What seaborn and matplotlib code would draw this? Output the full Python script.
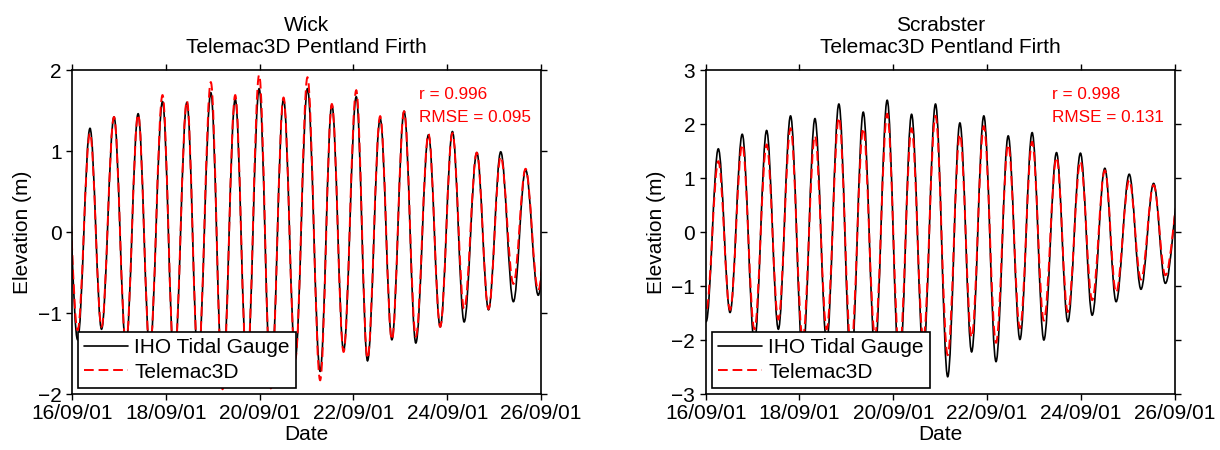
import numpy as np
import pandas as pd
import matplotlib
matplotlib.use("Agg")
import matplotlib.pyplot as plt
import matplotlib.dates as mdates
from matplotlib.path import Path
from matplotlib.patches import PathPatch
from matplotlib.lines import Line2D
import seaborn as sns

START = "2001-09-16"
END = "2001-09-26"

# times of high / low water, days after 16/09/01 00:00
wick_t = [-0.14, 0.12, 0.384, 0.63, 0.896, 1.15, 1.41, 1.66, 1.93, 2.18,
          2.45, 2.69, 2.96, 3.21, 3.48, 3.73, 3.99, 4.24, 4.51, 4.76,
          5.02, 5.29, 5.54, 5.79, 6.06, 6.30, 6.57, 6.82, 7.08, 7.33,
          7.60, 7.85, 8.11, 8.36, 8.63, 8.88, 9.14, 9.41, 9.67, 9.94, 10.2]
wick_gauge = [1.20, -1.33, 1.28, -1.20, 1.42, -1.40, 1.46, -1.45, 1.61, -1.62,
              1.60, -1.60, 1.72, -1.86, 1.64, -1.70, 1.77, -1.88, 1.64, -1.55,
              1.77, -1.72, 1.57, -1.46, 1.67, -1.59, 1.40, -1.33, 1.49, -1.37,
              1.20, -1.17, 1.24, -1.11, 0.98, -0.96, 0.99, -0.86, 0.77, -0.78, 0.70]
wick_model = [1.15, -1.21, 1.22, -1.17, 1.42, -1.38, 1.45, -1.45, 1.69, -1.62,
              1.62, -1.60, 1.85, -1.94, 1.69, -1.72, 1.94, -1.93, 1.66, -1.57,
              1.91, -1.83, 1.58, -1.48, 1.75, -1.56, 1.43, -1.33, 1.49, -1.29,
              1.21, -1.17, 1.22, -0.95, 0.98, -0.95, 0.93, -0.64, 0.78, -0.72, 0.70]

scrab_t = [-0.25, 0.01, 0.27, 0.52, 0.78, 1.04, 1.30, 1.55, 1.81, 2.07,
           2.33, 2.58, 2.84, 3.10, 3.36, 3.61, 3.87, 4.13, 4.39, 4.64,
           4.90, 5.16, 5.42, 5.67, 5.93, 6.19, 6.45, 6.70, 6.96, 7.21,
           7.48, 7.72, 7.99, 8.24, 8.51, 8.75, 9.03, 9.28, 9.55, 9.80, 10.12]
scrab_gauge = [1.40, -1.66, 1.54, -1.49, 1.81, -2.05, 1.88, -1.80, 2.15, -2.30,
               2.10, -2.05, 2.37, -2.50, 2.22, -2.20, 2.44, -2.60, 2.18, -2.25,
               2.37, -2.68, 2.02, -2.22, 2.15, -2.40, 1.78, -1.99, 1.84, -2.00,
               1.47, -1.66, 1.46, -1.54, 1.18, -1.29, 1.07, -1.06, 0.90, -0.95, 0.85]
scrab_model = [1.20, -1.45, 1.31, -1.44, 1.62, -1.80, 1.62, -1.62, 1.92, -1.98,
               1.78, -1.80, 2.12, -2.15, 1.92, -1.92, 2.19, -2.25, 1.92, -1.98,
               2.15, -2.28, 1.81, -1.95, 1.96, -2.05, 1.62, -1.78, 1.67, -1.64,
               1.38, -1.48, 1.31, -1.26, 1.14, -1.12, 0.96, -0.88, 0.87, -0.80, 0.78]

stations = ["Wick", "Scrabster"]
stats = [("r = 0.996", "RMSE = 0.095"), ("r = 0.998", "RMSE = 0.131")]
ylims = [(-2, 2), (-3, 3)]
yticks = [[-2, -1, 0, 1, 2], [-3, -2, -1, 0, 1, 2, 3]]
series = [(wick_t, wick_gauge, wick_model), (scrab_t, scrab_gauge, scrab_model)]

sns.set_theme(style="ticks")
plt.rcParams['font.family'] = ['Liberation Sans', 'DejaVu Sans']
plt.rcParams['axes.unicode_minus'] = True
plt.rcParams['text.color'] = 'black'
plt.rcParams['axes.labelcolor'] = 'black'
plt.rcParams['axes.titlecolor'] = 'black'


def tide_curve(t, h, **kw):
    # smooth curve between successive high/low waters (flat tangents at extremes)
    x = mdates.date2num(pd.Timestamp(START)) + np.asarray(t, dtype=float)
    verts = [(x[0], h[0])]
    codes = [Path.MOVETO]
    for i in range(1, len(x)):
        dx = x[i] - x[i - 1]
        verts += [(x[i - 1] + 0.364 * dx, h[i - 1]), (x[i] - 0.364 * dx, h[i]), (x[i], h[i])]
        codes += [Path.CURVE4] * 3
    return PathPatch(Path(verts, codes), fill=False, **kw)


fig = plt.figure(figsize=(12.2, 4.5), dpi=100)
lefts = [0.059, 0.5784]
dash = (0, (5, 2.5))

for i, name in enumerate(stations):
    ax = fig.add_axes([lefts[i], 0.1244, 0.3845, 0.72])
    t, gauge, model = series[i]
    ax.add_patch(tide_curve(t, gauge, edgecolor="black", linewidth=1.2))
    ax.add_patch(tide_curve(t, model, edgecolor="red", linewidth=1.4, linestyle=dash))

    ax.set_xlim(pd.Timestamp(START), pd.Timestamp(END))
    ax.xaxis.set_major_locator(mdates.DayLocator(bymonthday=[16, 18, 20, 22, 24, 26]))
    ax.xaxis.set_major_formatter(mdates.DateFormatter("%d/%m/%y"))
    ax.set_ylim(*ylims[i])
    ax.set_yticks(yticks[i])

    ax.set_title(f"{name}\nTelemac3D Pentland Firth", fontsize=15, pad=12, color="black")
    ax.set_xlabel("Date", fontsize=15, labelpad=1)
    ax.set_ylabel("Elevation (m)", fontsize=15)
    ax.tick_params(direction="out", top=True, right=True, length=4, width=1,
                   labelsize=15, colors="black")
    for s in ax.spines.values():
        s.set_linewidth(1.2)
        s.set_color("black")

    ax.text(0.739, 0.925, stats[i][0], transform=ax.transAxes, color="red",
            fontsize=12.3, va="center", ha="left")
    ax.text(0.739, 0.853, stats[i][1], transform=ax.transAxes, color="red",
            fontsize=12.3, va="center", ha="left")

    handles = [Line2D([], [], color="black", linewidth=1.2),
               Line2D([], [], color="red", linewidth=1.4, linestyle=dash)]
    leg = ax.legend(handles, ["IHO Tidal Gauge", "Telemac3D"], loc="lower left",
                    fontsize=15, frameon=True, fancybox=False, framealpha=1,
                    edgecolor="black", borderaxespad=0.3, handlelength=2.1,
                    handletextpad=0.3, labelspacing=0.25, borderpad=0.3)
    leg.get_frame().set_linewidth(1.2)
    for txt in leg.get_texts():
        txt.set_color("black")

fig.savefig("out.png", dpi=100)
